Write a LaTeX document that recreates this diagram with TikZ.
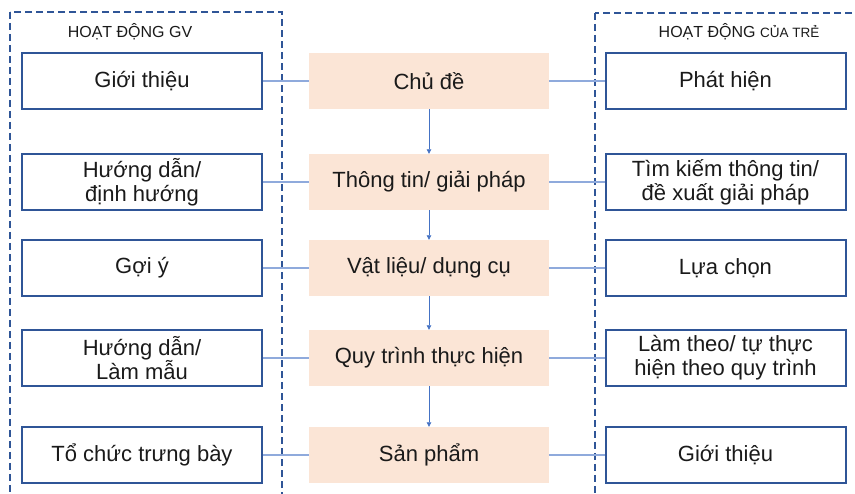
\documentclass[tikz,border=0pt]{standalone}
\usepackage{fontspec}
\setmainfont{Liberation Sans}
\usetikzlibrary{arrows.meta}
\definecolor{dashblue}{HTML}{2F5597}
\definecolor{boxblue}{HTML}{2F5597}
\definecolor{peach}{HTML}{FBE5D6}
\definecolor{linkblue}{HTML}{8FAADC}
\definecolor{arrowblue}{HTML}{4472C4}
\definecolor{txt}{HTML}{1A1A1A}
\tikzset{
  sidebox/.style={draw=boxblue, line width=2pt, fill=white, minimum width=240pt, minimum height=56pt,
    inner sep=0pt, align=center, text=txt, font=\fontsize{22}{24}\selectfont},
  midbox/.style={fill=peach, draw=none, minimum width=240pt, minimum height=56pt,
    inner sep=0pt, align=center, text=txt, font=\fontsize{22}{24}\selectfont},
  frame/.style={draw=dashblue, line width=1.8pt, dash pattern=on 7pt off 4pt},
  link/.style={draw=linkblue, line width=1.3pt},
  flow/.style={draw=arrowblue, line width=0.8pt, -{Triangle[length=4.5pt,width=4.5pt]}},
  header/.style={text=txt, font=\fontsize{16}{18}\selectfont, inner sep=0pt}
}
\begin{document}
\begin{tikzpicture}[x=1pt,y=-1pt]
\useasboundingbox (0,0) rectangle (855,494);
\clip (0,0) rectangle (855,494);
% dashed frames
\draw[frame] (10,12) rectangle (282,510);
\draw[frame] (595,13) rectangle (870,510);
\node[header] (hgv) at (130,32) {HOẠT ĐỘNG GV};
\node[header] (htre) at (739,32) {HOẠT ĐỘNG {\fontsize{13.5}{15}\selectfont CỦA TRẺ}};
% left column
\node[sidebox] (l1) at (142,81) {Giới thiệu};
\node[sidebox] (l2) at (142,182) {Hướng dẫn/\\định hướng};
\node[sidebox] (l3) at (142,268) {Gợi ý};
\node[sidebox] (l4) at (142,358) {Hướng dẫn/\\Làm mẫu};
\node[sidebox] (l5) at (142,455) {Tổ chức trưng bày};
% middle column
\node[midbox] (m1) at (429,81) {Chủ đề};
\node[midbox] (m2) at (429,182) {Thông tin/ giải pháp};
\node[midbox] (m3) at (429,268) {Vật liệu/ dụng cụ};
\node[midbox] (m4) at (429,358) {Quy trình thực hiện};
\node[midbox] (m5) at (429,455) {Sản phẩm};
% right column
\node[sidebox] (r1) at (725.5,81) {Phát hiện};
\node[sidebox] (r2) at (725.5,182) {Tìm kiếm thông tin/\\đề xuất giải pháp};
\node[sidebox] (r3) at (725.5,268) {Lựa chọn};
\node[sidebox] (r4) at (725.5,358) {Làm theo/ tự thực\\hiện theo quy trình};
\node[sidebox] (r5) at (725.5,455) {Giới thiệu};
% horizontal links
\foreach \i in {1,...,5}{
  \draw[link] (l\i.east) -- (m\i.west);
  \draw[link] (m\i.east) -- (r\i.west);
}
% vertical flow
\draw[flow] (m1.south) -- (m2.north);
\draw[flow] (m2.south) -- (m3.north);
\draw[flow] (m3.south) -- (m4.north);
\draw[flow] (m4.south) -- (m5.north);
\end{tikzpicture}
\end{document}
